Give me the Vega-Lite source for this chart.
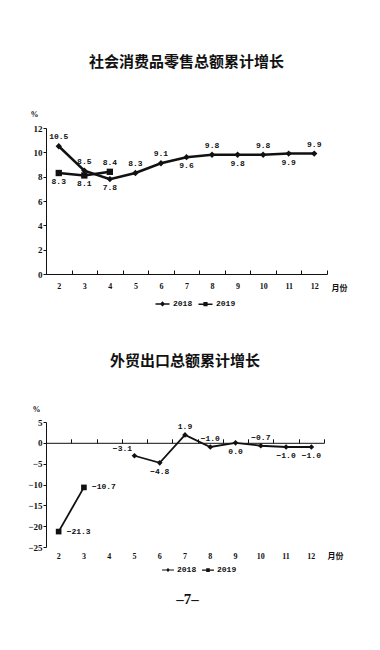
{
  "$schema": "https://vega.github.io/schema/vega-lite/v6.json",
  "background": "white",
  "padding": {"left": 27, "top": 55, "right": 5, "bottom": 5},
  "config": {
    "view": {"stroke": null},
    "axis": {"grid": false, "labelFont": "Liberation Serif", "labelFontWeight": "bold", "labelFontSize": 9, "labelColor": "#111", "domainColor": "#111", "tickColor": "#111", "titleFont": "Liberation Serif", "titleFontWeight": "bold", "titleFontSize": 8, "titleColor": "#111"},
    "title": {"font": "Noto Sans CJK SC", "fontWeight": "bold", "fontSize": 15, "color": "#111"},
    "legend": {"labelFont": "Liberation Mono", "labelFontSize": 8, "labelFontWeight": "bold", "labelColor": "#111"}
  },
  "datasets": {
    "retail": [
      {"year": "2018", "month": 2, "value": 10.5},
      {"year": "2018", "month": 3, "value": 8.5},
      {"year": "2018", "month": 4, "value": 7.8},
      {"year": "2018", "month": 5, "value": 8.3},
      {"year": "2018", "month": 6, "value": 9.1},
      {"year": "2018", "month": 7, "value": 9.6},
      {"year": "2018", "month": 8, "value": 9.8},
      {"year": "2018", "month": 9, "value": 9.8},
      {"year": "2018", "month": 10, "value": 9.8},
      {"year": "2018", "month": 11, "value": 9.9},
      {"year": "2018", "month": 12, "value": 9.9},
      {"year": "2019", "month": 2, "value": 8.3},
      {"year": "2019", "month": 3, "value": 8.1},
      {"year": "2019", "month": 4, "value": 8.4}
    ],
    "export": [
      {"year": "2018", "month": 5, "value": -3.1},
      {"year": "2018", "month": 6, "value": -4.8},
      {"year": "2018", "month": 7, "value": 1.9},
      {"year": "2018", "month": 8, "value": -1.0},
      {"year": "2018", "month": 9, "value": 0.0},
      {"year": "2018", "month": 10, "value": -0.7},
      {"year": "2018", "month": 11, "value": -1.0},
      {"year": "2018", "month": 12, "value": -1.0},
      {"year": "2019", "month": 2, "value": -21.3},
      {"year": "2019", "month": 3, "value": -10.7}
    ]
  },
  "title": {"text": "–7–", "orient": "bottom", "anchor": "middle", "font": "Liberation Serif", "fontSize": 15, "fontWeight": "bold", "color": "#111", "offset": 17},
  "resolve": {"scale": {"x": "independent", "y": "independent", "shape": "independent"}, "legend": {"shape": "independent"}},
  "spacing": 44,
  "vconcat": [
    {
      "width": 281,
      "height": 146,
      "title": {"text": "社会消费品零售总额累计增长", "anchor": "middle", "offset": 40},
      "data": {"name": "retail"},
      "encoding": {
        "x": {"field": "month", "type": "ordinal", "bandPosition": 0.5,
          "scale": {"type": "band", "domain": [2, 3, 4, 5, 6, 7, 8, 9, 10, 11, 12], "paddingInner": 0, "paddingOuter": 0},
          "axis": {"title": "月份", "titleFont": "Noto Sans CJK SC", "titleFontSize": 8, "titleX": 285, "titleY": 14, "titleAlign": "left", "titleBaseline": "middle", "titleAngle": 0, "labelAngle": 0, "tickBand": "extent", "tickSize": -4, "labelPadding": 16, "labelBaseline": "middle", "labelFontSize": 8}},
        "y": {"field": "value", "type": "quantitative", "scale": {"domain": [0, 12]},
          "axis": {"values": [0, 2, 4, 6, 8, 10, 12], "title": "%", "titleAngle": 0, "titleX": -12, "titleY": -14, "titleAlign": "center", "titleBaseline": "middle", "tickSize": 3, "labelPadding": 1}}
      },
      "resolve": {"scale": {"shape": "independent"}, "legend": {"shape": "independent"}},
      "layer": [
        {"mark": {"type": "line", "color": "#111", "strokeWidth": 2.5}, "encoding": {"detail": {"field": "year"}}},
        {"mark": {"type": "point", "filled": true, "color": "#111", "opacity": 1, "size": 40},
          "encoding": {"shape": {"field": "year", "type": "nominal",
            "scale": {"domain": ["2018", "2019"], "range": ["diamond", "square"]}, "legend": null}}},
        {"transform": [{"filter": "false"}],
          "mark": {"type": "point", "filled": true, "color": "#111", "opacity": 1},
          "encoding": {"shape": {"field": "year", "type": "nominal",
            "scale": {"domain": ["2018", "2019"], "range": ["M-2,-0.2L2,-0.2L2,0.2L-2,0.2Z M0,-0.75L0.75,0L0,0.75L-0.75,0Z", "M-2,-0.2L2,-0.2L2,0.2L-2,0.2Z M-0.6,-0.6L0.6,-0.6L0.6,0.6L-0.6,0.6Z"]},
            "legend": {"orient": "none", "legendX": 112, "legendY": 171, "direction": "horizontal", "title": null, "symbolSize": 49, "labelOffset": 6, "columnPadding": 2}}}},
        {"transform": [{"filter": "(datum.year === '2018' && (datum.month === 2 || datum.month === 3 || datum.month === 5 || datum.month === 6 || datum.month === 8 || datum.month === 10 || datum.month === 12)) || (datum.year === '2019' && datum.month === 4)"}],
          "mark": {"type": "text", "font": "Liberation Mono", "fontSize": 8, "fontWeight": "bold", "color": "#111", "dy": -9},
          "encoding": {"text": {"field": "value", "type": "quantitative", "format": ".1f"}}},
        {"transform": [{"filter": "(datum.year === '2018' && (datum.month === 4 || datum.month === 7 || datum.month === 9 || datum.month === 11)) || (datum.year === '2019' && datum.month !== 4)"}],
          "mark": {"type": "text", "font": "Liberation Mono", "fontSize": 8, "fontWeight": "bold", "color": "#111", "dy": 9},
          "encoding": {"text": {"field": "value", "type": "quantitative", "format": ".1f"}}}
      ]
    },
    {
      "width": 278,
      "height": 125,
      "title": {"text": "外贸出口总额累计增长", "anchor": "middle", "offset": 36},
      "data": {"name": "export"},
      "encoding": {
        "y": {"field": "value", "type": "quantitative", "scale": {"domain": [-25, 5]},
          "axis": {"values": [-25, -20, -15, -10, -5, 0, 5], "title": "%", "titleAngle": 0, "titleX": -10, "titleY": -13, "titleAlign": "center", "titleBaseline": "middle", "tickSize": 3, "labelPadding": 1}}
      },
      "resolve": {"axis": {"x": "independent"}, "scale": {"shape": "independent"}, "legend": {"shape": "independent"}},
      "layer": [
        {"mark": {"type": "line", "color": "#111", "strokeWidth": 1.8},
          "encoding": {
            "x": {"field": "month", "type": "ordinal", "bandPosition": 0.5,
              "scale": {"type": "band", "domain": [2, 3, 4, 5, 6, 7, 8, 9, 10, 11, 12], "paddingInner": 0, "paddingOuter": 0},
              "axis": {"orient": "bottom", "domain": false, "ticks": false, "labelAngle": 0, "labelPadding": 5, "labelFontSize": 8, "title": "月份", "titleFont": "Noto Sans CJK SC", "titleFontSize": 8, "titleX": 281, "titleY": 9, "titleAlign": "left", "titleBaseline": "middle"}},
            "detail": {"field": "year"}}},
        {"mark": {"type": "point", "filled": true, "color": "#111", "opacity": 1, "size": 32},
          "encoding": {
            "x": {"field": "month", "type": "ordinal", "bandPosition": 0.5,
              "scale": {"type": "band", "domain": [2, 3, 4, 5, 6, 7, 8, 9, 10, 11, 12], "paddingInner": 0, "paddingOuter": 0},
              "axis": {"orient": "top", "offset": -20.8, "labels": false, "tickBand": "extent", "tickSize": 4, "title": null}},
            "shape": {"field": "year", "type": "nominal",
              "scale": {"domain": ["2018", "2019"], "range": ["diamond", "square"]}, "legend": null}}},
        {"transform": [{"filter": "false"}],
          "mark": {"type": "point", "filled": true, "color": "#111", "opacity": 1},
          "encoding": {
            "x": {"field": "month", "type": "ordinal", "bandPosition": 0.5, "axis": null},
            "shape": {"field": "year", "type": "nominal",
              "scale": {"domain": ["2018", "2019"], "range": ["M-2,-0.18L2,-0.18L2,0.18L-2,0.18Z M0,-0.65L0.65,0L0,0.65L-0.65,0Z", "M-2,-0.18L2,-0.18L2,0.18L-2,0.18Z M-0.6,-0.6L0.6,-0.6L0.6,0.6L-0.6,0.6Z"]},
              "legend": {"orient": "none", "legendX": 118, "legendY": 144, "direction": "horizontal", "title": null, "symbolSize": 36, "labelOffset": 5, "columnPadding": 2}}}},
        {"transform": [{"filter": "datum.year === '2019'"}],
          "mark": {"type": "text", "font": "Liberation Mono", "fontSize": 8, "fontWeight": "bold", "color": "#111", "align": "left", "dx": 8},
          "encoding": {"x": {"field": "month", "type": "ordinal", "bandPosition": 0.5, "axis": null}, "text": {"field": "value", "type": "quantitative", "format": ".1f"}}},
        {"transform": [{"filter": "datum.year === '2018' && (datum.month === 7 || datum.month === 8 || datum.month === 10)"}],
          "mark": {"type": "text", "font": "Liberation Mono", "fontSize": 8, "fontWeight": "bold", "color": "#111", "dy": -8},
          "encoding": {"x": {"field": "month", "type": "ordinal", "bandPosition": 0.5, "axis": null}, "text": {"field": "value", "type": "quantitative", "format": ".1f"}}},
        {"transform": [{"filter": "datum.year === '2018' && datum.month === 5"}],
          "mark": {"type": "text", "font": "Liberation Mono", "fontSize": 8, "fontWeight": "bold", "color": "#111", "dy": -7, "dx": -12},
          "encoding": {"x": {"field": "month", "type": "ordinal", "bandPosition": 0.5, "axis": null}, "text": {"field": "value", "type": "quantitative", "format": ".1f"}}},
        {"transform": [{"filter": "datum.year === '2018' && (datum.month === 6 || datum.month === 9 || datum.month === 11 || datum.month === 12)"}],
          "mark": {"type": "text", "font": "Liberation Mono", "fontSize": 8, "fontWeight": "bold", "color": "#111", "dy": 9},
          "encoding": {"x": {"field": "month", "type": "ordinal", "bandPosition": 0.5, "axis": null}, "text": {"field": "value", "type": "quantitative", "format": ".1f"}}}
      ]
    }
  ]
}
